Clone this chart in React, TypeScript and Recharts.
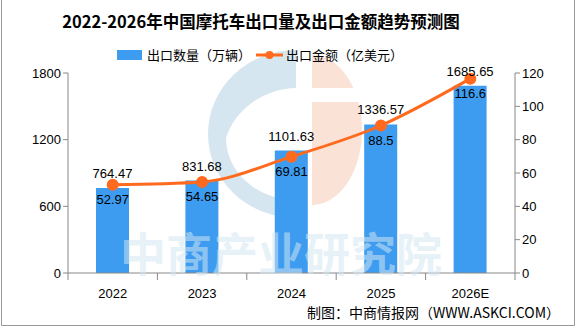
import React from "react";
import { ComposedChart, Bar, Line, XAxis, YAxis, LabelList } from "recharts";

const years = ["2022", "2023", "2024", "2025", "2026E"];
const exportVolume = [764.47, 831.68, 1101.63, 1336.57, 1685.65];
const exportValue = [52.97, 54.65, 69.81, 88.5, 116.6];
const leftTicks = [0, 600, 1200, 1800];
const rightTicks = [0, 20, 40, 60, 80, 100, 120];

const data = years.map((y, i) => ({ year: y, volume: exportVolume[i], value: exportValue[i] }));

const CJK = "'Noto Sans CJK SC', 'Liberation Sans', sans-serif";
const NUM = "'Liberation Sans', 'Noto Sans CJK SC', sans-serif";
const BLUE = "#3d9cf0";
const ORANGE = "#ff6a1e";
const AXIS = "#888888";
const BAND = 447 / years.length;

const XTick = (props: any) => {
  const { x, payload, index } = props;
  const axisY = 273;
  return (
    <g>
      <line x1={x - BAND / 2} y1={axisY} x2={x - BAND / 2} y2={axisY + 7} stroke={AXIS} />
      {index === years.length - 1 && (
        <line x1={x + BAND / 2} y1={axisY} x2={x + BAND / 2} y2={axisY + 7} stroke={AXIS} />
      )}
      <text x={x} y={axisY + 25} textAnchor="middle" fontSize={13} fontFamily={NUM} fill="#000">
        {payload.value}
      </text>
    </g>
  );
};

export default function App() {
  return (
    <div style={{ position: "absolute", left: 0, top: 0, width: 576, height: 327, background: "#fff", overflow: "hidden" }}>
      {/* watermark logo */}
      <svg width={576} height={327} style={{ position: "absolute", left: 0, top: 0 }}>
        <path
          d="M 296 50 A 88 84 0 0 0 296 218 L 296 200 A 70 62 0 0 1 226 138 A 75 70 0 0 1 296 88 Z"
          fill="#d6e6f0"
        />
        <path d="M 312 55 A 50 75 0 0 1 312 205 Z" fill="#fbe2d6" />
        <rect x={310} y={88} width={60} height={14} fill="#fff" />
      </svg>
      <div style={{ position: "absolute", left: 0, top: 0 }}>
        <ComposedChart width={576} height={327} data={data} margin={{ top: 73, right: 0, bottom: 29, left: 0 }}>
          <XAxis dataKey="year" height={25} tick={<XTick />} tickLine={false} stroke={AXIS} interval={0} />
          <YAxis
            yAxisId="left"
            width={68}
            domain={[0, 1800]}
            ticks={leftTicks}
            stroke={AXIS}
            tick={{ fill: "#000", fontSize: 13, fontFamily: NUM }}
            tickSize={5}
            interval={0}
          />
          <YAxis
            yAxisId="right"
            orientation="right"
            width={61}
            domain={[0, 120]}
            ticks={rightTicks}
            stroke={AXIS}
            tick={{ fill: "#000", fontSize: 13, fontFamily: NUM }}
            tickSize={5}
            interval={0}
          />
          <Bar yAxisId="left" dataKey="volume" fill={BLUE} barSize={33} isAnimationActive={false}>
            <LabelList dataKey="volume" position="top" offset={10} fill="#000" fontSize={13} fontFamily={NUM} />
          </Bar>
          <Line
            yAxisId="right"
            dataKey="value"
            type="monotone"
            stroke={ORANGE}
            strokeWidth={3}
            dot={{ r: 4.5, fill: ORANGE, stroke: ORANGE }}
            isAnimationActive={false}
          >
            <LabelList dataKey="value" position="bottom" offset={10} fill="#000" fontSize={13} fontFamily={NUM} />
          </Line>
        </ComposedChart>
      </div>
      <svg width={576} height={327} style={{ position: "absolute", left: 0, top: 0, pointerEvents: "none" }}>
        <text x={281} y={271} textAnchor="middle" fontSize={46} fontWeight="bold" fontFamily={CJK} fill="#d3e6f2" fillOpacity={0.55}>
          中商产业研究院
        </text>
        <text x={261} y={28} textAnchor="middle" fontSize={16.5} fontWeight="bold" fontFamily={CJK} fill="#000">
          2022-2026年中国摩托车出口量及出口金额趋势预测图
        </text>
        <rect x={117} y={50} width={25} height={10} fill={BLUE} />
        <text x={147} y={60} fontSize={13} fontFamily={CJK} fill="#000">出口数量（万辆）</text>
        <line x1={256} y1={55} x2={283} y2={55} stroke={ORANGE} strokeWidth={3} />
        <circle cx={269.5} cy={55} r={4} fill={ORANGE} />
        <text x={286} y={60} fontSize={13} fontFamily={CJK} fill="#000">出口金额（亿美元）</text>
        <text x={560} y={318} textAnchor="end" fontSize={14} fontFamily={CJK} fill="#000">制图：中商情报网（WWW.ASKCI.COM）</text>
        <path d="M 1.5 0 L 1.5 325.5 L 574.5 325.5 L 574.5 0" fill="none" stroke="#999" />
      </svg>
    </div>
  );
}
